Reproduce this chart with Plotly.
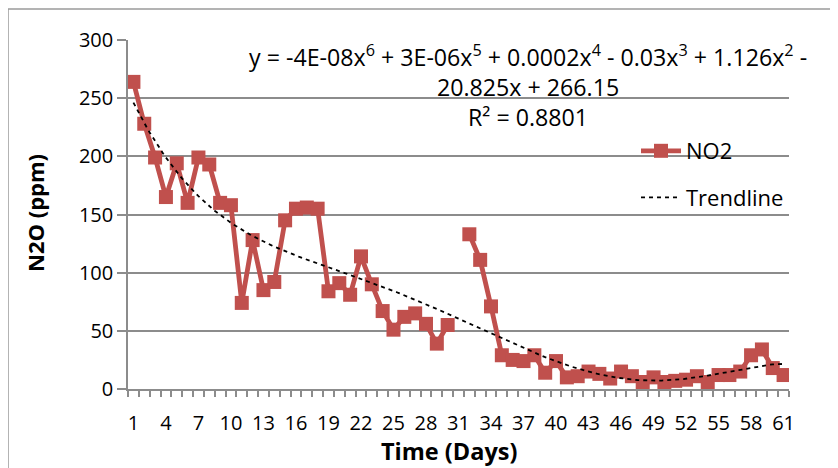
import numpy as np
import plotly.graph_objects as go

# ---- data ----
days = list(range(1, 62))
no2_ppm = [264, 228, 199, 165, 194, 160, 199, 193, 160, 158,
           74, 128, 85, 92, 145, 155, 156, 155, 84, 91,
           81, 114, 90, 67, 51, 62, 65, 56, 39, 55,
           None, 133, 111, 71, 29, 25, 24, 29, 14, 24,
           10, 11, 15, 13, 9, 15, 11, 6, 10, 6,
           7, 8, 11, 6, 12, 12, 15, 29, 34, 18,
           12]
x_tick_labels = [str(d) for d in range(1, 62, 3)]
y_ticks = [0, 50, 100, 150, 200, 250, 300]
equation_lines = [
    "y = -4E-08x<sup>6</sup> + 3E-06x<sup>5</sup> + 0.0002x<sup>4</sup> - 0.03x<sup>3</sup> + 1.126x<sup>2</sup> -",
    "20.825x + 266.15",
    "R² = 0.8801",
]

# ---- 6th order polynomial trendline fitted to the data (as Excel does) ----
xs = np.array([d for d, v in zip(days, no2_ppm) if v is not None], dtype=float)
ys = np.array([v for v in no2_ppm if v is not None], dtype=float)
coef = np.polyfit(xs, ys, 6)
x_fit = np.linspace(1, 61, 241)
y_fit = np.polyval(coef, x_fit)

RED = "#C0504D"
GRID = "#8C8C8C"
FONT = "Open Sans"

# page has an 8px body margin: figure occupies window pixels 8..838
OFF = 8
W, H = 838 - OFF, 468 - OFF
# plot area in window pixels: x 128..789, y 40..389
L, T = 128 - OFF, 40 - OFF
PW, PH = 661, 349
R, B = W - L - PW, H - T - PH


def px_x(p):
    return (p - OFF - L) / PW


def px_y(p):
    return (T + PH - (p - OFF)) / PH


fig = go.Figure()
fig.add_trace(go.Scatter(
    x=days, y=no2_ppm, mode="lines+markers", name="NO2",
    line=dict(color=RED, width=4.8),
    marker=dict(symbol="square", size=14, color=RED),
    connectgaps=False, legendgroup="a",
))
fig.add_trace(go.Scatter(
    x=x_fit, y=y_fit, mode="lines", name="Trendline",
    line=dict(color="black", width=1.8, dash="4px,4px"),
    legendgroup="b",
))

annotations = [dict(
    text="<br>".join(equation_lines), x=px_x(528), y=px_y(86),
    xref="paper", yref="paper", xanchor="center", yanchor="middle",
    align="center", showarrow=False,
    font=dict(family=FONT, size=23.2, color="black"),
)]
annotations.append(dict(
    text="<b>N2O (ppm)</b>", x=px_x(35), y=px_y(213), xref="paper", yref="paper",
    xanchor="center", yanchor="middle", showarrow=False, textangle=-90,
    font=dict(family=FONT, size=22, color="black"),
))
annotations.append(dict(
    text="<b>Time (Days)</b>", x=px_x(449), y=px_y(451), xref="paper", yref="paper",
    xanchor="center", yanchor="middle", showarrow=False,
    font=dict(family=FONT, size=23.5, color="black"),
))

shapes = [
    dict(type="line", xref="paper", yref="paper",
         x0=px_x(8), x1=px_x(850), y0=px_y(9), y1=px_y(9),
         line=dict(color="#9A9A9A", width=1.5)),
    dict(type="line", xref="paper", yref="paper",
         x0=px_x(8), x1=px_x(8), y0=px_y(9), y1=px_y(480),
         line=dict(color="#9A9A9A", width=1.5)),
]

fig.update_layout(
    width=W, height=H,
    margin=dict(l=L, r=R, t=T, b=B, pad=0),
    paper_bgcolor="white", plot_bgcolor="white",
    font=dict(family=FONT, size=20, color="black"),
    showlegend=True,
    legend=dict(
        x=px_x(636), y=px_y(130), xanchor="left", yanchor="top",
        traceorder="grouped", tracegroupgap=15,
        font=dict(family=FONT, size=22, color="black"),
        bgcolor="rgba(0,0,0,0)", itemwidth=40,
    ),
    annotations=annotations,
    shapes=shapes,
    xaxis=dict(
        range=[0.5, 61.5], tickmode="array",
        tickvals=list(range(1, 62, 3)), ticktext=x_tick_labels,
        ticks="", showgrid=False, zeroline=False,
        showline=True, linecolor=GRID, linewidth=1.5,
        ticklabelstandoff=15,
        tickfont=dict(family=FONT, size=20),
        minor=dict(ticks="outside", tick0=0.5, dtick=1, ticklen=6,
                   tickcolor=GRID, tickwidth=1.5, showgrid=False),
    ),
    yaxis=dict(
        range=[0, 300], tickmode="array", tickvals=y_ticks,
        ticks="outside", ticklen=9, tickcolor=GRID, tickwidth=1.5,
        tickfont=dict(family=FONT, size=20),
        showgrid=True, gridcolor=GRID, gridwidth=1.5, zeroline=False,
        showline=True, linecolor=GRID, linewidth=1.5,
    ),
)

fig.write_html("out.html")
